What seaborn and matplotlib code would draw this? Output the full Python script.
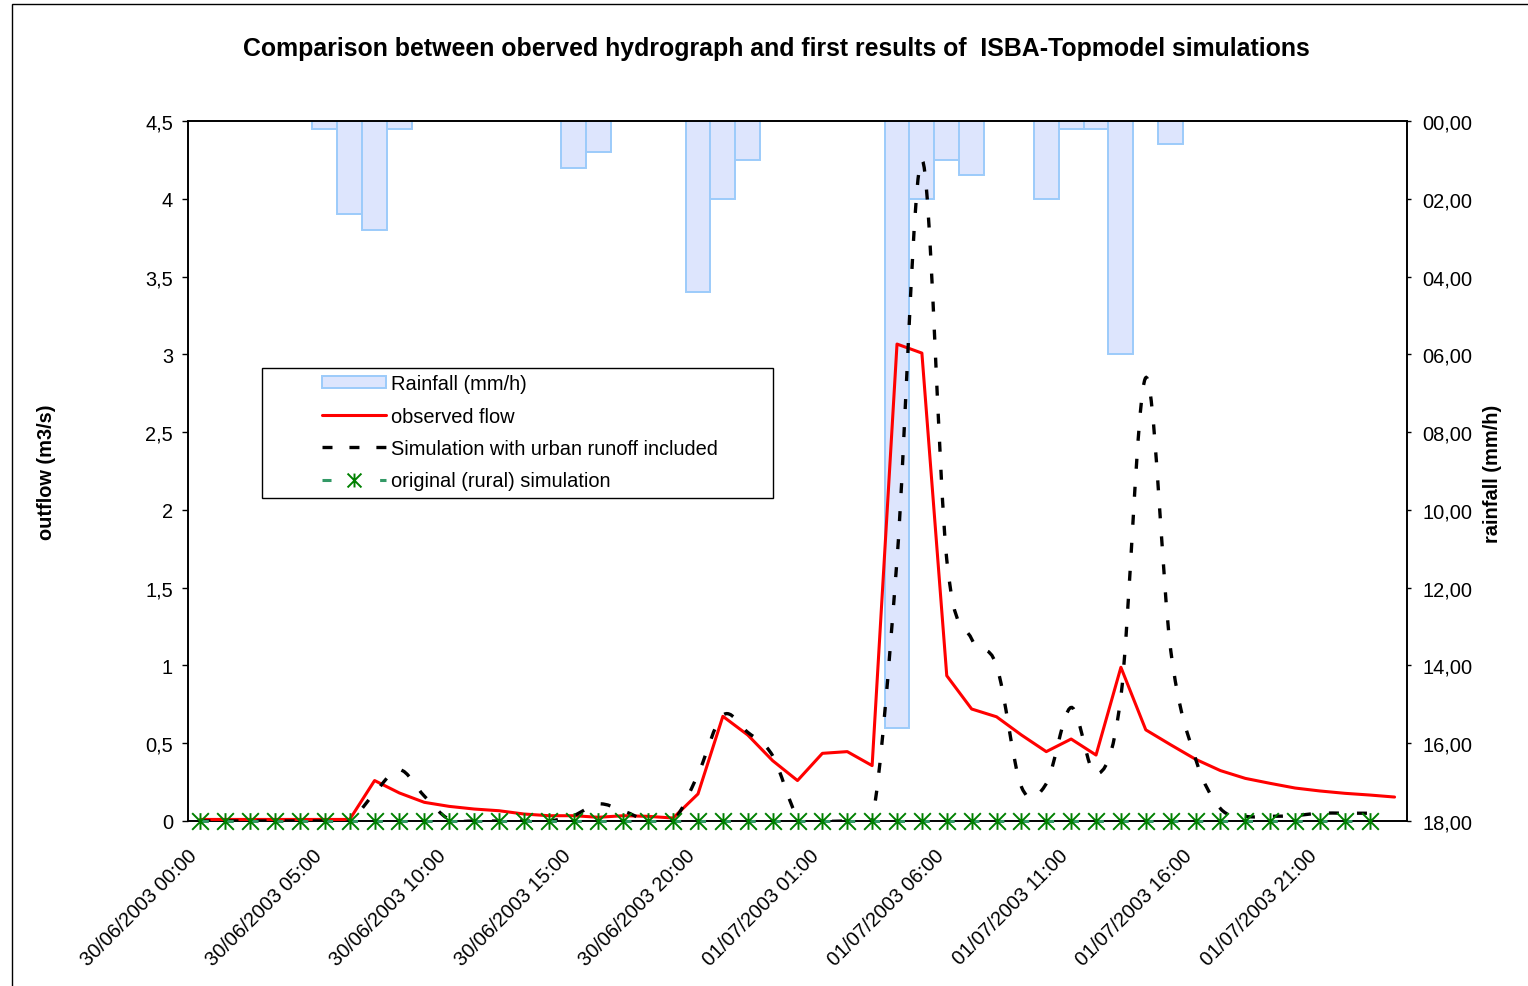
import numpy as np
import pandas as pd
import matplotlib
matplotlib.use("Agg")
import matplotlib.pyplot as plt
import seaborn as sns
from matplotlib.path import Path
from matplotlib.patches import PathPatch, Patch, Rectangle
from matplotlib.lines import Line2D
from matplotlib.ticker import FuncFormatter
from matplotlib.transforms import ScaledTranslation

# ---------------- data ----------------
hours = list(range(49))  # 30/06/2003 00:00 ... 02/07/2003 00:00, hourly
tick_hours = [0, 5, 10, 15, 20, 25, 30, 35, 40, 45]
tick_labels = ["30/06/2003 00:00", "30/06/2003 05:00", "30/06/2003 10:00",
               "30/06/2003 15:00", "30/06/2003 20:00", "01/07/2003 01:00",
               "01/07/2003 06:00", "01/07/2003 11:00", "01/07/2003 16:00",
               "01/07/2003 21:00"]

rainfall = [0, 0, 0, 0, 0, 0.2, 2.4, 2.8, 0.2, 0,
            0, 0, 0, 0, 0, 1.2, 0.8, 0, 0, 0,
            4.4, 2.0, 1.0, 0, 0, 0, 0, 0, 15.6, 2.0,
            1.0, 1.4, 0, 0, 2.0, 0.2, 0.2, 6.0, 0, 0.6,
            0, 0, 0, 0, 0, 0, 0, 0, 0]

observed = [0.01, 0.01, 0.01, 0.01, 0.01, 0.01, 0.01, 0.26, 0.18, 0.12,
            0.094, 0.077, 0.066, 0.045, 0.034, 0.034, 0.024, 0.034, 0.03, 0.019,
            0.174, 0.673, 0.553, 0.388, 0.26, 0.435, 0.446, 0.356, 3.066, 3.008,
            0.934, 0.72, 0.67, 0.553, 0.446, 0.527, 0.424, 0.988, 0.586, 0.49,
            0.397, 0.324, 0.274, 0.242, 0.212, 0.193, 0.178, 0.167, 0.154]

urban = [0, 0, 0, 0, 0, 0, 0, 0.18, 0.33, 0.16,
         0.01, 0, 0, 0, 0, 0.035, 0.11, 0.065, 0, 0,
         0.3, 0.68, 0.57, 0.42, 0.03, 0, 0, 0, 1.68, 4.25,
         1.68, 1.17, 1.0, 0.22, 0.24, 0.73, 0.3, 0.8, 2.85, 1.1,
         0.4, 0.08, 0.03, 0.03, 0.035, 0.05, 0.05, 0.05]

rural = [0] * 48

title_text = "Comparison between oberved hydrograph and first results of  ISBA-Topmodel simulations"

# ---------------- style ----------------
sns.set_style("white")
plt.rcParams['font.family'] = ['Liberation Sans', 'DejaVu Sans']
plt.rcParams['lines.scale_dashes'] = False
plt.rcParams['axes.edgecolor'] = 'black'
plt.rcParams['text.color'] = 'black'
plt.rcParams['axes.labelcolor'] = 'black'
plt.rcParams['xtick.color'] = 'black'
plt.rcParams['ytick.color'] = 'black'

W, H = 1528, 987
fig = plt.figure(figsize=(W / 100, H / 100), dpi=100)
ax = fig.add_axes([188 / W, 1 - 822 / H, (1407 - 188) / W, (822 - 122) / H])
ax2 = ax.twinx()
ax.set_zorder(ax2.get_zorder() + 1)
ax.patch.set_visible(False)
ax2.patch.set_visible(False)

FS = 14.4
BAR_FACE = '#dde5fd'
BAR_EDGE = '#9ccbfa'

# ---------------- rainfall bars (secondary, inverted) ----------------
rain_df = pd.DataFrame({'hour': hours, 'rain': rainfall})
rain_df = rain_df[rain_df['rain'] > 0]
sns.barplot(data=rain_df, x='hour', y='rain', native_scale=True, width=1,
            color=BAR_FACE, saturation=1, edgecolor=BAR_EDGE, linewidth=1.4,
            errorbar=None, ax=ax2)

# ---------------- observed flow ----------------
sns.lineplot(x=hours, y=observed, ax=ax, color='#ff0000', linewidth=2.2,
             zorder=3)


# ---------------- urban simulation (Excel-style smoothed line) ----------------
def smooth_path(xs, ys):
    pts = np.column_stack([xs, ys]).astype(float)
    n = len(pts)
    verts = [pts[0]]
    codes = [Path.MOVETO]
    for k in range(n - 1):
        p0 = pts[k - 1] if k > 0 else pts[k]
        p1 = pts[k]
        p2 = pts[k + 1]
        p3 = pts[k + 2] if k + 2 < n else pts[k + 1]
        c1 = p1 + (p2 - p0) / 6.0
        c2 = p2 - (p3 - p1) / 6.0
        verts += [c1, c2, p2]
        codes += [Path.CURVE4] * 3
    return Path(verts, codes)


urban_patch = PathPatch(smooth_path(hours[:len(urban)], urban), fill=False,
                        edgecolor='black', linewidth=2.4,
                        linestyle=(0, (7.2, 13.0)), capstyle='butt',
                        transform=ax.transData, zorder=4)
ax.add_patch(urban_patch)

# ---------------- rural simulation ----------------
star = Path([(0, -1), (0, 1), (-1, -1), (1, 1), (-1, 1), (1, -1)],
            [Path.MOVETO, Path.LINETO, Path.MOVETO, Path.LINETO, Path.MOVETO, Path.LINETO])
sns.lineplot(x=hours[:len(rural)], y=rural, ax=ax, color='#339966', linewidth=2.2,
             marker=star, markersize=12, markeredgecolor='#008000',
             markeredgewidth=1.4, markerfacecolor='none', zorder=5, clip_on=False)
rl = ax.lines[-1]
rl.set_linestyle((0, (6.0, 11.9)))
rl.set_markeredgecolor('#008000')
rl.set_markeredgewidth(1.4)
rl.set_clip_on(False)

# ---------------- axes formatting ----------------
ax.set_xlim(-0.5, 48.5)
ax.set_ylim(0, 4.5)
ax2.set_ylim(18, 0)

ax.set_yticks(np.arange(0, 4.51, 0.5))
ax.yaxis.set_major_formatter(FuncFormatter(lambda v, p: ('%g' % round(v, 2)).replace('.', ',')))
ax2.set_yticks(np.arange(0, 18.1, 2))
ax2.yaxis.set_major_formatter(FuncFormatter(lambda v, p: ('%05.2f' % v).replace('.', ',')))

ax.set_xticks(tick_hours)
ax.set_xticklabels(tick_labels, rotation=45, ha='right', va='center',
                   rotation_mode='anchor', fontsize=FS)
ax.set_xticks(np.arange(-0.5, 49, 1), minor=True)
ax.tick_params(axis='x', which='major', length=0, pad=22.3, labelsize=FS, labelcolor='black')
ax.tick_params(axis='x', which='minor', length=3.6, width=1.0, direction='out', color='black')
ax.tick_params(axis='y', length=4.3, width=1.0, pad=6.5, labelsize=FS, direction='out',
               color='black', labelcolor='black')
ax2.tick_params(axis='y', length=2.9, width=1.0, pad=8.4, labelsize=FS, direction='out',
                color='black', labelcolor='black')
shift = ScaledTranslation(-6 / 100, 0, fig.dpi_scale_trans)
for lbl in ax.get_xticklabels():
    lbl.set_transform(lbl.get_transform() + shift)

for a in (ax, ax2):
    a.set_xlabel('')
    a.set_ylabel('')
    a.grid(False)
    for s in a.spines.values():
        s.set_visible(True)
        s.set_color('black')
        s.set_linewidth(1.2)

# ---------------- texts ----------------
fig.text(47 / W, 1 - 472 / H, 'outflow (m3/s)', rotation=90, ha='center', va='center',
         fontsize=FS, fontweight='bold', color='black')
fig.text(1492 / W, 1 - 474 / H, 'rainfall (mm/h)', rotation=90, ha='center', va='center',
         fontsize=FS, fontweight='bold', color='black')
title = fig.text(776 / W, 1 - 49 / H, title_text, ha='center', va='center',
                 fontsize=16, fontweight='bold', color='black')
fig.canvas.draw()
bb = title.get_window_extent()
title.set_fontsize(16 * 1068 / bb.width)

# ---------------- legend ----------------
handles = [
    Patch(facecolor=BAR_FACE, edgecolor=BAR_EDGE, linewidth=1.4),
    Line2D([], [], color='#ff0000', linewidth=2.2),
    Line2D([], [], color='black', linewidth=2.4, linestyle=(0, (7.2, 12.2)), dash_capstyle='butt'),
    Line2D([], [], color='#339966', linewidth=2.2, linestyle=(0, (6.5, 35.0)),
           marker=star, markersize=10, markeredgecolor='#008000', markeredgewidth=1.4,
           markerfacecolor='none'),
]
labels = ['Rainfall (mm/h)', 'observed flow', 'Simulation with urban runoff included',
          'original (rural) simulation']
fig.legend(handles, labels, loc='upper left', bbox_to_anchor=(322 / W, 1 - 375.5 / H),
           bbox_transform=fig.transFigure, frameon=False, borderpad=0, borderaxespad=0,
           handlelength=3.2, handletextpad=0.25, labelspacing=0.66, fontsize=FS,
           handleheight=0.55, numpoints=1, labelcolor='black')
fig.add_artist(Rectangle((262 / W, 1 - 499 / H), (773 - 262) / W, (499 - 369) / H,
                         transform=fig.transFigure, fill=False, edgecolor='black',
                         linewidth=1.0))

# chart-area border
fig.add_artist(Rectangle((12 / W, -0.05), 1.2, (1 - 5 / H) + 0.05,
                         transform=fig.transFigure, fill=False, edgecolor='black',
                         linewidth=1.0))

fig.savefig('out.png', dpi=100, facecolor='white')
